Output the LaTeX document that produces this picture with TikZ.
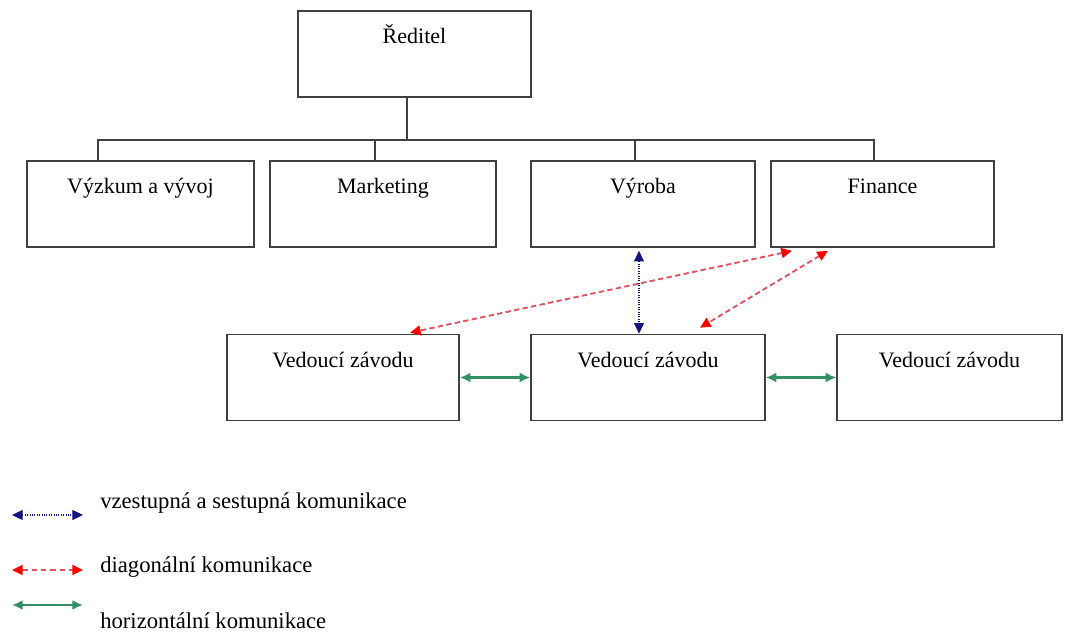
\documentclass[tikz,border=0pt]{standalone}
\usepackage{fontspec}
\setmainfont{Liberation Serif}
\usetikzlibrary{arrows.meta,calc}
\definecolor{navy}{rgb}{0.08,0.08,0.5}
\definecolor{diagred}{rgb}{0.88,0.32,0.38}
\definecolor{horgreen}{rgb}{0.2,0.56,0.4}
\definecolor{frame}{gray}{0.25}
\tikzset{
  unit/.style={draw=frame, line width=1.2pt, inner sep=0pt, text height=24.75pt, text depth=39.75pt, font=\fontsize{16.5}{20}\selectfont},
  tree/.style={draw=frame, line width=1.2pt},
  updown/.style={draw=navy, densely dotted, line width=0.8pt, <->, >={Triangle[length=8pt,width=7.5pt]}},
  diag/.style={draw=diagred, dash pattern=on 4pt off 2.5pt, line width=1.4pt, <->, >={Triangle[color=red,length=8pt,width=7.5pt]}},
  horiz/.style={draw=horgreen, line width=1.6pt, <->, >={Latex[length=8pt,width=7.5pt]}},
  legtext/.style={anchor=west, inner sep=0pt, font=\fontsize{17}{20}\selectfont}
}

\begin{document}
\begin{tikzpicture}[x=0.75pt,y=-0.75pt]
		\useasboundingbox (0,0) rectangle (1065,635);
		%Boxes
		\node[unit, minimum width=174.75pt] (reditel) at (414.5,54) {Ředitel};
		\node[unit, minimum width=170pt] (vyzkum) at (140.5,204) {Výzkum a vývoj};
		\node[unit, minimum width=169.5pt] (marketing) at (383,204) {Marketing};
		\node[unit, minimum width=168pt] (vyroba) at (643,204) {Výroba};
		\node[unit, minimum width=167.25pt] (finance) at (882.5,204) {Finance};
		\node[unit, minimum width=174pt] (vedouci1) at (343,377.5) {Vedoucí závodu};
		\node[unit, minimum width=175.5pt] (vedouci2) at (648,377.5) {Vedoucí závodu};
		\node[unit, minimum width=168.5pt] (vedouci3) at (949.5,377.5) {Vedoucí závodu};
		%Tree lines
		\coordinate (bus) at (407,140);
		\coordinate (b1) at (98,140);
		\coordinate (b2) at (375,140);
		\coordinate (b3) at (635,140);
		\coordinate (b4) at (874,140);
		\draw[tree] (bus |- reditel.south) -- (bus);
		\draw[tree] (b1 |- vyzkum.north) -- (b1) -- (b4) -- (b4 |- finance.north);
		\draw[tree] (b2) -- (b2 |- marketing.north);
		\draw[tree] (b3) -- (b3 |- vyroba.north);
		%Arrows
		\draw[updown] ([xshift=-3pt,yshift=-2.25pt]vyroba.south) -- ([xshift=-6.75pt]vedouci2.north);
		\draw[diag] ([xshift=-67.9pt,yshift=-2.25pt]finance.south) -- ([xshift=50.25pt,yshift=0.75pt]vedouci1.north);
		\draw[diag] ([xshift=-40.9pt,yshift=-2.25pt]finance.south) -- ([xshift=39pt,yshift=4.5pt]vedouci2.north);
		\draw[horiz] (vedouci1.east) -- (vedouci2.west);
		\draw[horiz] (vedouci2.east) -- (vedouci3.west);
		%Legend
		\coordinate (l1a) at (12,515);
		\coordinate (l1b) at (83,515);
		\coordinate (l2a) at (12,570);
		\coordinate (l2b) at (83,570);
		\coordinate (l3a) at (12,605);
		\coordinate (l3b) at (83,605);
		\draw[updown] (l1a) -- (l1b);
		\draw[diag, dash pattern=on 4pt off 3pt] (l2a) -- (l2b);
		\draw[horiz] (l3a) -- (l3b);
		\node[legtext] (t1) at (100,503) {vzestupná a sestupná komunikace};
		\node[legtext] (t2) at (100,567) {diagonální komunikace};
		\node[legtext] (t3) at (100,621) {horizontální komunikace};
	\end{tikzpicture}
\end{document}
